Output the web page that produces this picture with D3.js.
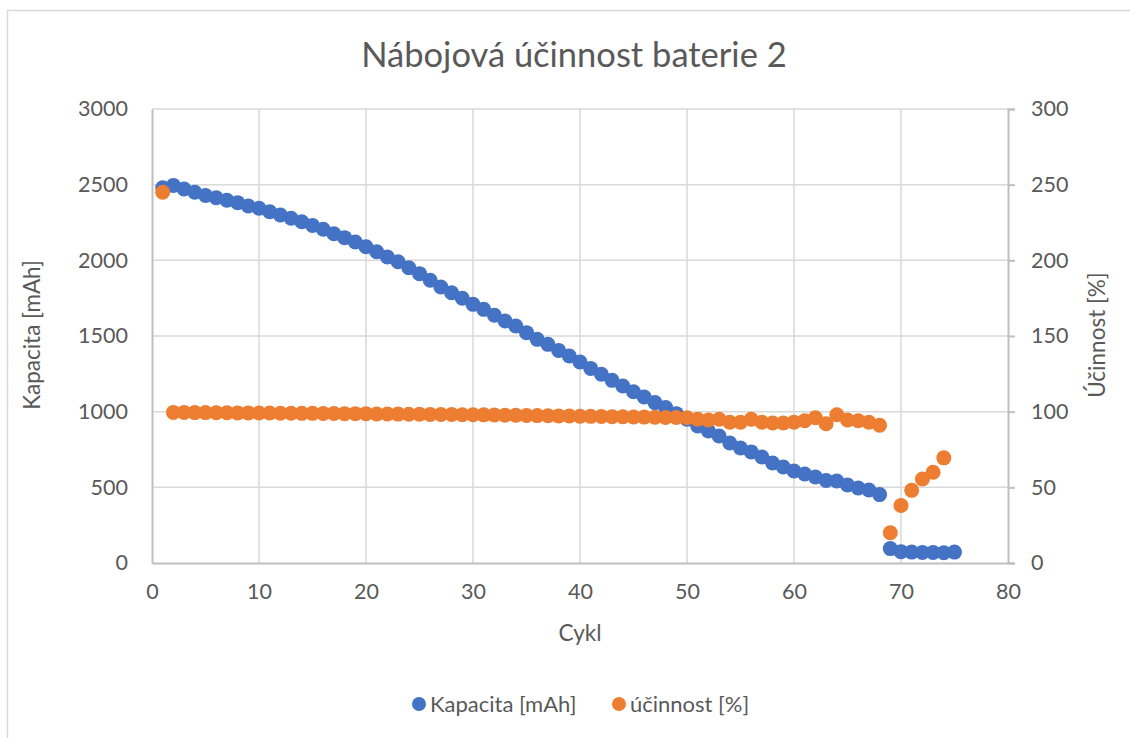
<!DOCTYPE html>
<html><head><meta charset="utf-8">
<script src="https://cdn.jsdelivr.net/npm/d3@7"></script>
<style>body{margin:0;background:#fff;} svg{display:block;font-family:Lato,"Open Sans",sans-serif;}</style>
</head><body><svg id="c" width="1130" height="738"></svg>
<script>
const title = "Nábojová účinnost baterie 2";
const xTitle = "Cykl";
const yTitle = "Kapacita [mAh]";
const y2Title = "Účinnost [%]";
const seriesNames = ["Kapacita [mAh]", "účinnost [%]"];
const xTicks = [0,10,20,30,40,50,60,70,80];
const yTicks = [0,500,1000,1500,2000,2500,3000];
const y2Ticks = [0,50,100,150,200,250,300];

const cycles = d3.range(1, 76);
const capacity = [2480,2495,2471,2450,2428,2414,2397,2381,2359,2344,
  2321,2300,2278,2255,2231,2205,2176,2150,2121,2090,
  2057,2022,1991,1951,1912,1868,1824,1786,1749,1709,
  1676,1637,1599,1566,1522,1478,1445,1405,1368,1328,
  1286,1247,1207,1170,1132,1097,1060,1027,987,950,
  905,872,839,793,760,734,700,661,634,608,
  588,568,545,542,515,496,482,452,95,75,
  72,70,70,68,72];
const efficiency = [245,99.5,99.5,99.4,99.4,99.3,99.3,99.2,99.2,99.1,
  99.1,99.0,99.0,98.9,98.9,98.8,98.8,98.7,98.7,98.6,
  98.5,98.5,98.4,98.3,98.3,98.2,98.1,98.1,98.0,98.0,
  97.9,97.8,97.7,97.6,97.5,97.4,97.3,97.2,97.1,97.0,
  96.9,96.8,96.7,96.6,96.5,96.4,96.3,96.2,96.1,96.0,
  95,94.5,95,93,93,95,93,92.5,92.5,93,
  94,96,92,98,94.5,94,93,91,20,38,
  48,55.5,60,69.5,null];

const blue = "#4472C4", orange = "#ED7D31", txt = "#595959", grid = "#d9d9d9", axisC = "#bfbfbf";
const svg = d3.select("#c");
const L = 152, R = 1008, T = 109, B = 563;
const x = d3.scaleLinear().domain([0,80]).range([L,R]);
const y = d3.scaleLinear().domain([0,3000]).range([B,T]);
const y2 = d3.scaleLinear().domain([0,300]).range([B,T]);

svg.append("rect").attr("x",7.5).attr("y",10.5).attr("width",1130).attr("height",740)
  .attr("fill","#fff").attr("stroke",grid).attr("stroke-width",1.5);

// gridlines
svg.append("g").selectAll("line").data(yTicks.slice(1)).join("line")
  .attr("x1",L).attr("x2",R).attr("y1",d=>y(d)).attr("y2",d=>y(d))
  .attr("stroke",grid).attr("stroke-width",1.5);
svg.append("g").selectAll("line").data(xTicks.slice(1,-1)).join("line")
  .attr("y1",T).attr("y2",B).attr("x1",d=>x(d)).attr("x2",d=>x(d))
  .attr("stroke",grid).attr("stroke-width",1.5);

// axes
const fmt = d3.format("d");
const gx = svg.append("g").attr("transform",`translate(0,${B})`)
  .call(d3.axisBottom(x).tickValues(xTicks).tickFormat(fmt).tickSize(0).tickPadding(21));
const gy = svg.append("g").attr("transform",`translate(${L},0)`)
  .call(d3.axisLeft(y).tickValues(yTicks).tickFormat(fmt).tickSize(0).tickPadding(24));
const gy2 = svg.append("g").attr("transform",`translate(${R},0)`)
  .call(d3.axisRight(y2).tickValues(y2Ticks).tickFormat(fmt).tickSize(7).tickPadding(16));
[gx,gy,gy2].forEach(g=>{
  g.select(".domain").attr("stroke",axisC).attr("stroke-width",2);
  g.selectAll(".tick line").attr("stroke",axisC).attr("stroke-width",2);
  g.selectAll("text").attr("fill",txt).style("font-size","21.5px").style("font-family","Lato");
});

// series
svg.append("g").selectAll("circle").data(cycles.map((c,i)=>[c,capacity[i]]).filter(d=>d[1]!=null)).join("circle")
  .attr("cx",d=>x(d[0])).attr("cy",d=>y(d[1])).attr("r",7.5).attr("fill",blue);
svg.append("g").selectAll("circle").data(cycles.map((c,i)=>[c,efficiency[i]]).filter(d=>d[1]!=null)).join("circle")
  .attr("cx",d=>x(d[0])).attr("cy",d=>y2(d[1])).attr("r",7.5).attr("fill",orange);

// titles
svg.append("text").attr("x",574).attr("y",67).attr("text-anchor","middle")
  .attr("fill",txt).style("font-size","34.5px").text(title);
svg.append("text").attr("x",580).attr("y",641).attr("text-anchor","middle")
  .attr("fill",txt).style("font-size","22.5px").text(xTitle);
svg.append("text").attr("transform","translate(40,335) rotate(-90)").attr("text-anchor","middle")
  .attr("fill",txt).style("font-size","22.5px").text(yTitle);
svg.append("text").attr("transform","translate(1105,335) rotate(-90)").attr("text-anchor","middle")
  .attr("fill",txt).style("font-size","22.5px").text(y2Title);

// legend
const leg = [{n:seriesNames[0],c:blue,x:419},{n:seriesNames[1],c:orange,x:619}];
const lg = svg.append("g").selectAll("g").data(leg).join("g");
lg.append("circle").attr("cx",d=>d.x).attr("cy",704).attr("r",7).attr("fill",d=>d.c);
lg.append("text").attr("x",d=>d.x+11).attr("y",711.5).attr("fill",txt).style("font-size","22px").text(d=>d.n);
</script></body></html>
